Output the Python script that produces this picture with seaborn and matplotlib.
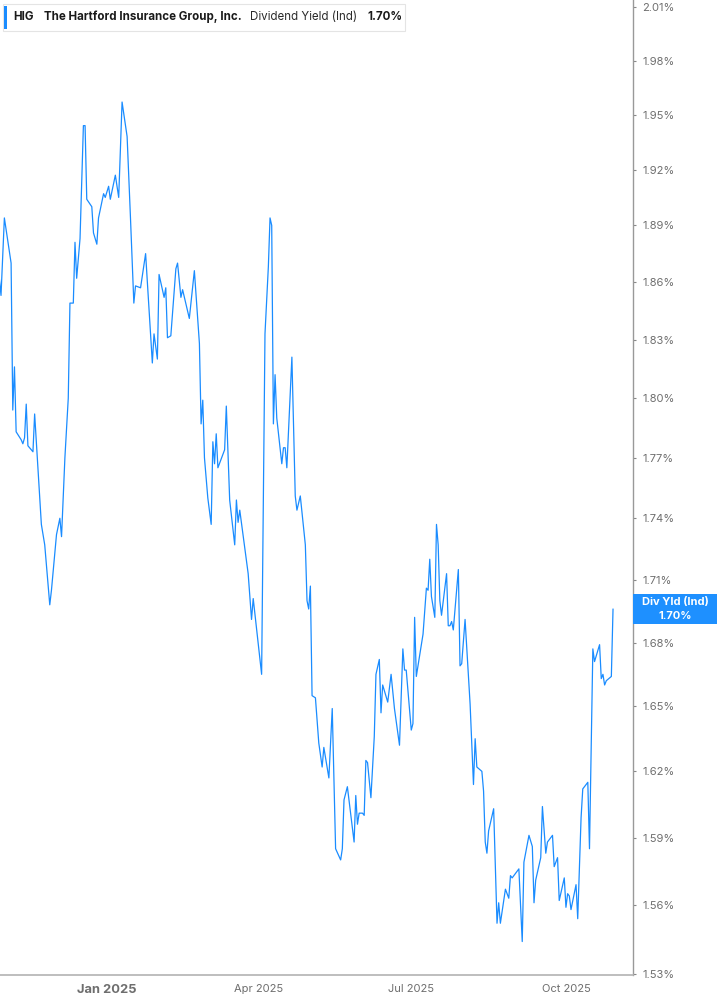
import matplotlib
matplotlib.use('Agg')
import matplotlib.pyplot as plt
from matplotlib.patches import Rectangle
from matplotlib.ticker import FixedLocator, NullLocator
import pandas as pd
import seaborn as sns

# trading days, counted from 2025-01-01 (negative = late 2024)
days = [-64, -63, -61, -57, -56, -55, -54, -51, -50, -49, -48, -47, -44, -43, -39, -37, -34, -33, -30, -28,
        -27, -25, -23, -22, -20, -19, -18, -16, -14, -13, -12, -9, -8, -6, -5, -2, -1, 1, 2, 5,
        7, 9, 12, 14, 16, 17, 20, 23, 27, 28, 30, 31, 34, 35, 36, 38, 41, 42, 44, 45,
        49, 52, 55, 56, 57, 58, 60, 62, 63, 64, 65, 66, 70, 71, 73, 76, 77, 78, 79, 84,
        86, 87, 92, 94, 96, 97, 98, 99, 100, 101, 104, 105, 106, 107, 110, 112, 113, 115, 118, 119,
        120, 121, 122, 124, 126, 128, 129, 132, 134, 136, 139, 140, 141, 143, 147, 148, 149, 150, 152, 153,
        154, 155, 157, 159, 160, 162, 163, 164, 167, 169, 171, 174, 176, 177, 178, 181, 182, 183, 184, 188,
        190, 191, 192, 193, 195, 196, 197, 198, 199, 202, 203, 204, 205, 206, 209, 210, 211, 213, 216, 218,
        219, 220, 223, 224, 225, 226, 227, 230, 232, 233, 234, 237, 239, 240, 241, 245, 247, 248, 251, 253,
        254, 255, 258, 259, 261, 262, 265, 266, 268, 269, 272, 273, 274, 275, 276, 279, 280, 282, 283, 286,
        287, 289, 290, 293, 294, 295, 296, 297, 300, 301]

# dividend yield (indicated), percent
div_yield = [1.862, 1.853, 1.894, 1.870, 1.794, 1.816, 1.783, 1.779, 1.777, 1.780, 1.797, 1.776, 1.773, 1.792, 1.737, 1.727, 1.698, 1.705, 1.732, 1.740,
             1.731, 1.770, 1.800, 1.849, 1.849, 1.881, 1.862, 1.883, 1.944, 1.944, 1.904, 1.900, 1.886, 1.880, 1.894, 1.907, 1.905, 1.911, 1.904, 1.917,
             1.905, 1.957, 1.938, 1.894, 1.849, 1.858, 1.857, 1.875, 1.818, 1.833, 1.820, 1.864, 1.852, 1.857, 1.831, 1.832, 1.867, 1.870, 1.852, 1.856,
             1.841, 1.866, 1.828, 1.787, 1.799, 1.770, 1.750, 1.737, 1.778, 1.767, 1.782, 1.765, 1.774, 1.796, 1.749, 1.727, 1.749, 1.738, 1.744, 1.713,
             1.691, 1.701, 1.665, 1.833, 1.868, 1.894, 1.890, 1.787, 1.812, 1.790, 1.767, 1.775, 1.775, 1.765, 1.821, 1.751, 1.744, 1.751, 1.727, 1.700,
             1.696, 1.707, 1.655, 1.654, 1.633, 1.622, 1.631, 1.617, 1.649, 1.585, 1.580, 1.585, 1.607, 1.613, 1.588, 1.609, 1.596, 1.601, 1.601, 1.600,
             1.625, 1.624, 1.608, 1.636, 1.665, 1.672, 1.647, 1.660, 1.652, 1.665, 1.649, 1.632, 1.677, 1.667, 1.667, 1.639, 1.642, 1.692, 1.664, 1.684,
             1.706, 1.705, 1.720, 1.702, 1.692, 1.737, 1.727, 1.700, 1.693, 1.713, 1.688, 1.688, 1.690, 1.686, 1.715, 1.669, 1.670, 1.691, 1.651, 1.614,
             1.635, 1.622, 1.620, 1.611, 1.588, 1.583, 1.593, 1.603, 1.552, 1.561, 1.552, 1.567, 1.563, 1.573, 1.572, 1.576, 1.544, 1.579, 1.591, 1.586,
             1.561, 1.571, 1.581, 1.604, 1.583, 1.588, 1.591, 1.577, 1.581, 1.562, 1.572, 1.559, 1.565, 1.564, 1.558, 1.569, 1.554, 1.599, 1.612, 1.615,
             1.585, 1.677, 1.671, 1.679, 1.663, 1.665, 1.660, 1.662, 1.664, 1.696]

y_ticks = [1.53, 1.56, 1.59, 1.62, 1.65, 1.68, 1.71, 1.74, 1.77, 1.80, 1.83, 1.86, 1.89, 1.92, 1.95, 1.98, 2.01]
x_tick_dates = ['2025-01-01', '2025-04-01', '2025-07-01', '2025-10-01']
x_tick_labels = ['Jan 2025', 'Apr 2025', 'Jul 2025', 'Oct 2025']

ticker = 'HIG'
company = 'The Hartford Insurance Group, Inc.'
metric = 'Dividend Yield (Ind)'

LINE = '#1a8cff'
W, H = 717, 1005

sns.set_theme(style='white')
plt.rcParams['font.family'] = ['Inter', 'DejaVu Sans']

base = pd.Timestamp('2025-01-01')
df = pd.DataFrame({'date': base + pd.to_timedelta(days, unit='D'), 'yield': div_yield})

fig = plt.figure(figsize=(W / 100, H / 100), dpi=100)
ax = fig.add_axes([0, 1 - 974.5 / H, 632.7 / W, 974.5 / H])
sns.lineplot(data=df, x='date', y='yield', ax=ax, color=LINE, linewidth=0.9)

ax.set_yscale('log')
ax.set_ylim(1.5297, 2.0142)
ax.set_xlim(base - pd.Timedelta(days=63.6), base + pd.Timedelta(days=312.7))

ax.yaxis.set_major_locator(FixedLocator(y_ticks))
ax.yaxis.set_minor_locator(NullLocator())
ax.set_yticklabels([f'{v:.2f}%' for v in y_ticks])
ax.yaxis.tick_right()
ax.tick_params(axis='y', length=2, width=0.8, color='#888888', labelsize=8, labelcolor='#6e6e6e', pad=5)

ax.set_xticks(pd.to_datetime(x_tick_dates))
ax.set_xticklabels(x_tick_labels)
ax.tick_params(axis='x', length=3, width=0.8, color='#999999', labelsize=8, labelcolor='#6e6e6e', pad=4)
jan = ax.get_xticklabels()[0]
jan.set_fontweight('bold')
jan.set_fontsize(9.3)

ax.set_xlabel('')
ax.set_ylabel('')
for side in ['left', 'top']:
    ax.spines[side].set_visible(False)
ax.spines['right'].set_color('#999999')
ax.spines['right'].set_linewidth(1.0)
ax.spines['bottom'].set_color('#b3b3b3')
ax.spines['bottom'].set_linewidth(1.2)

# header box
fig.patches.append(Rectangle((3 / W, 1 - 31 / H), 402 / W, 27 / H, transform=fig.transFigure,
                             facecolor='white', edgecolor='#e4e4e4', linewidth=0.8))
fig.patches.append(Rectangle((4 / W, 1 - 29 / H), 3 / W, 23 / H, transform=fig.transFigure,
                             facecolor=LINE, edgecolor='none'))
ty = 1 - 17 / H
last = f'{div_yield[-1]:.2f}%'
fig.text(13 / W, ty, ticker, ha='left', va='center', fontsize=8.3, fontweight='bold', color='#1a1a1a')
fig.text(44 / W, ty, company, ha='left', va='center', fontsize=8.3, fontweight='bold', color='#1a1a1a')
fig.text(250.5 / W, ty, metric, ha='left', va='center', fontsize=8.3, color='#2a2a2a')
fig.text(367.5 / W, ty, last, ha='left', va='center', fontsize=8.3, fontweight='bold', color='#1a1a1a')

# last value tag on the right axis
_, ydisp = ax.transData.transform((ax.get_xlim()[0], div_yield[-1]))
yfig = fig.transFigure.inverted().transform((0, ydisp))[1]
fig.patches.append(Rectangle((632.7 / W, yfig - 15 / H), (W - 632.7) / W, 30 / H, transform=fig.transFigure,
                             facecolor='#1e90ff', edgecolor='none'))
fig.text(675 / W, yfig + 6.5 / H, 'Div Yld (Ind)', ha='center', va='center', fontsize=8, fontweight='bold', color='white')
fig.text(675 / W, yfig - 7 / H, last, ha='center', va='center', fontsize=8, fontweight='bold', color='white')

fig.savefig('out.png', dpi=100)
